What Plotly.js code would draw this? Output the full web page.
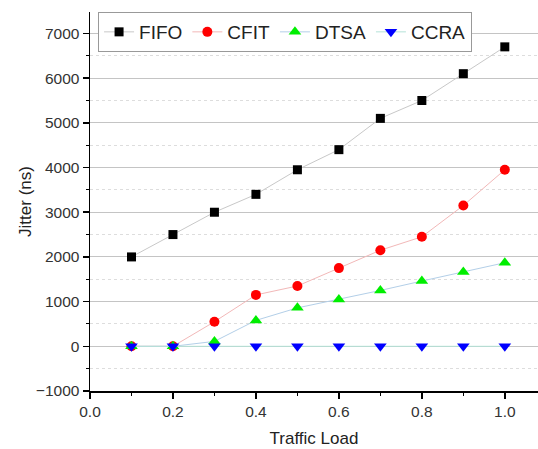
<!DOCTYPE html>
<html>
<head>
<meta charset="utf-8">
<script src="https://cdn.plot.ly/plotly-3.0.1.min.js"></script>
<style>html,body{margin:0;padding:0;background:#fff;}#chart{width:538px;height:449px;}</style>
</head>
<body>
<div id="chart"></div>
<script>
const trafficLoad = [0.1, 0.2, 0.3, 0.4, 0.5, 0.6, 0.7, 0.8, 0.9, 1.0];
const fifo = [2000, 2500, 3000, 3400, 3950, 4400, 5100, 5500, 6100, 6700];
const cfit = [0, 0, 550, 1150, 1350, 1750, 2150, 2450, 3150, 3950];
const dtsa = [0, 0, 110, 580, 860, 1050, 1250, 1460, 1660, 1870];
const ccra = [0, 0, 0, 0, 0, 0, 0, 0, 0, 0];
const seriesNames = ["FIFO", "CFIT", "DTSA", "CCRA"];

const FONT = "Arial, 'Liberation Sans', sans-serif";

const traces = [
  {x: trafficLoad, y: fifo, name: seriesNames[0], mode: "lines+markers",
   line: {color: "#c8c8c8", width: 1}, marker: {symbol: "square", size: 9, color: "#000000"}},
  {x: trafficLoad, y: cfit, name: seriesNames[1], mode: "lines+markers",
   line: {color: "#f2b8b8", width: 1}, marker: {symbol: "circle", size: 10, color: "#ff0000"}},
  {x: trafficLoad, y: dtsa, name: seriesNames[2], mode: "lines+markers",
   line: {color: "#b3cfe8", width: 1}, marker: {symbol: "triangle-up", size: 11, color: "#00ee00"}},
  {x: trafficLoad, y: ccra, name: seriesNames[3], mode: "lines+markers",
   line: {color: "#b5e3d8", width: 1}, marker: {symbol: "triangle-down", size: 11, color: "#0000ff"}}
];

const layout = {
  width: 538, height: 449,
  margin: {l: 90, r: 0, t: 12, b: 58},
  paper_bgcolor: "#ffffff", plot_bgcolor: "#ffffff",
  font: {family: FONT, color: "#222"},
  showlegend: true,
  legend: {orientation: "h", x: 0.018, y: 1.0, xanchor: "left", yanchor: "top",
    bordercolor: "#999999", borderwidth: 1, bgcolor: "rgba(255,255,255,1)",
    font: {family: FONT, size: 19, color: "#222"}, itemwidth: 30, tracegroupgap: 0},
  xaxis: {
    range: [0, 1.08], tickvals: [0, 0.2, 0.4, 0.6, 0.8, 1.0],
    ticktext: ["0.0", "0.2", "0.4", "0.6", "0.8", "1.0"],
    showgrid: false, zeroline: false, showline: true, linecolor: "#000", linewidth: 1.5,
    ticks: "outside", ticklen: 6, tickwidth: 1.5, tickcolor: "#000",
    tickfont: {family: FONT, size: 15.5, color: "#333"},
    minor: {dtick: 0.1, tick0: 0, ticks: "outside", ticklen: 3, tickwidth: 1, tickcolor: "#000", showgrid: false},
    title: {text: "Traffic Load", font: {family: FONT, size: 17, color: "#222"}, standoff: 13}
  },
  yaxis: {
    range: [-1000, 7480], tickvals: [-1000, 0, 1000, 2000, 3000, 4000, 5000, 6000, 7000],
    ticktext: ["\u22121000", "0", "1000", "2000", "3000", "4000", "5000", "6000", "7000"],
    showgrid: true, gridcolor: "#c4c4c4", gridwidth: 1,
    zeroline: false, showline: true, linecolor: "#000", linewidth: 1.5,
    ticks: "outside", ticklen: 6, tickwidth: 1.5, tickcolor: "#000",
    tickfont: {family: FONT, size: 15.5, color: "#333"},
    minor: {dtick: 500, tick0: -1000, ticks: "outside", ticklen: 3, tickwidth: 1, tickcolor: "#000",
      showgrid: true, gridcolor: "#dddddd", griddash: "dot", gridwidth: 1},
    title: {text: "Jitter (ns)", font: {family: FONT, size: 17, color: "#222"}, standoff: 0}
  }
};

Plotly.newPlot("chart", traces, layout, {displayModeBar: false, staticPlot: true});
</script>
</body>
</html>
